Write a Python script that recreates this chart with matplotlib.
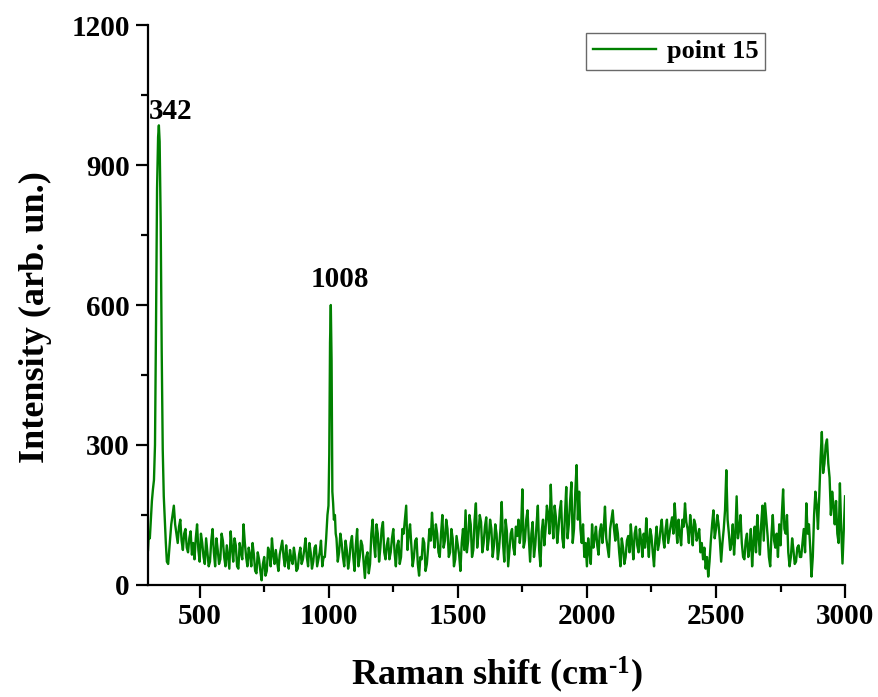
import numpy as np
import matplotlib
matplotlib.use("Agg")
import matplotlib.pyplot as plt
from matplotlib.ticker import MultipleLocator

# Raman spectrum "point 15"
# strong band around 342 cm-1
peak1_shift = [300, 303, 307, 311, 315, 319, 323, 327, 331, 335, 339, 342,
               345, 349, 353, 357, 361, 365, 369, 373, 378]
peak1_int = [75, 110, 100, 140, 180, 205, 225, 300, 560, 850, 960, 985,
             950, 780, 500, 290, 190, 140, 90, 50, 45]

# background between the two bands, 380..980 cm-1 every 10
bg1_start = 380
bg1_int = [60, 130, 170, 110, 125, 95, 110, 80, 100, 65,
           55, 130, 50, 90, 45, 70, 50, 120, 40, 75,
           55, 95, 40, 60, 115, 50, 85, 35, 70, 130,
           60, 80, 40, 65, 25, 55, 10, 60, 30, 70,
           100, 45, 50, 65, 95, 40, 55, 75, 45, 60,
           35, 80, 55, 100, 40, 70, 50, 85, 55, 95,
           60]
# in-between readings, 385..975 cm-1
bg1_mid_start = 385
bg1_mid = [95, 150, 130, 90, 140, 75, 120, 70, 115, 90,
           100, 75, 110, 60, 100, 40, 95, 70, 100, 45,
           110, 60, 85, 35, 80, 100, 40, 90, 55, 90,
           40, 65, 90, 30, 70, 30, 45, 20, 80, 40,
           65, 75, 30, 80, 60, 85, 35, 55, 80, 30,
           65, 45, 75, 60, 90, 35, 80, 40, 70, 40]

# narrow band at 1008 cm-1
peak2_shift = [985, 990, 995, 999, 1002, 1005, 1008, 1011, 1014, 1017, 1020, 1024, 1027]
peak2_int = [60, 100, 150, 170, 280, 520, 600, 480, 200, 175, 140, 150, 110]

# background 1030..3000 cm-1 every 10
bg2_start = 1030
bg2_int = [100, 70, 90, 40, 75, 55, 105, 30, 120, 60,
           85, 15, 70, 45, 140, 60, 110, 80, 135, 55,
           100, 70, 120, 40, 95, 60, 110, 170, 110, 85,
           60, 100, 20, 55, 90, 45, 120, 155, 80, 110,
           60, 150, 95, 120, 70, 100, 55, 85, 30, 120,
           160, 95, 130, 75, 175, 110, 135, 90, 145, 100,
           120, 85, 110, 80, 178, 50, 115, 75, 120, 65,
           105, 90, 205, 95, 160, 50, 135, 85, 170, 40,
           140, 120, 150, 215, 100, 145, 120, 180, 80, 210,
           130, 220, 120, 257, 200, 90, 60, 40, 70, 130,
           100, 85, 115, 90, 168, 80, 120, 160, 95, 110,
           40, 80, 60, 105, 130, 55, 125, 70, 95, 110,
           143, 60, 105, 40, 125, 90, 140, 80, 140, 110,
           145, 175, 90, 110, 140, 175, 120, 150, 85, 130,
           105, 70, 55, 35, 18, 95, 160, 120, 130, 50,
           120, 246, 110, 90, 65, 190, 120, 90, 55, 110,
           80, 40, 125, 150, 65, 170, 175, 105, 40, 150,
           80, 60, 85, 205, 110, 70, 60, 75, 50, 85,
           60, 120, 175, 130, 18, 150, 170, 190, 328, 260,
           312, 230, 200, 130, 110, 218, 46, 190]
# in-between readings, 1035..2995 cm-1
bg2_mid_start = 1035
bg2_mid = [50, 110, 60, 95, 35, 90, 60, 85, 40, 95,
           50, 60, 25, 110, 90, 130, 50, 120, 70, 85,
           55, 100, 70, 85, 45, 120, 140, 75, 130, 40,
           95, 45, 60, 100, 30, 80, 95, 110, 130, 70,
           110, 80, 140, 60, 120, 40, 105, 65, 90, 75,
           70, 150, 60, 140, 80, 150, 70, 125, 75, 140,
           60, 130, 55, 120, 90, 140, 40, 110, 80, 125,
           140, 120, 80, 140, 100, 110, 60, 130, 75, 115,
           85, 170, 110, 140, 170, 90, 160, 100, 150, 100,
           180, 90, 200, 140, 120, 130, 90, 100, 45, 80,
           125, 65, 130, 120, 100, 60, 140, 120, 130, 70,
           100, 45, 95, 70, 90, 110, 85, 120, 60, 80,
           95, 120, 70, 95, 75, 120, 100, 120, 90, 130,
           110, 130, 140, 85, 125, 135, 90, 120, 140, 95,
           120, 90, 80, 60, 50, 130, 100, 150, 95, 90,
           160, 140, 75, 130, 110, 100, 150, 60, 95, 60,
           120, 90, 70, 105, 130, 95, 140, 60, 110, 95,
           110, 130, 150, 120, 150, 40, 100, 45, 80, 60,
           90, 70, 110, 80, 60, 200, 120, 270, 240, 300,
           260, 150, 170, 180, 90, 120, 120]

peak_labels = ["342", "1008"]
peak_label_pos = [(388, 985), (1045, 625)]

bg1_shift = bg1_start + 10 * np.arange(len(bg1_int))
bg1_mid_shift = bg1_mid_start + 10 * np.arange(len(bg1_mid))
bg2_shift = bg2_start + 10 * np.arange(len(bg2_int))
bg2_mid_shift = bg2_mid_start + 10 * np.arange(len(bg2_mid))

shift = np.concatenate([peak1_shift, bg1_shift, bg1_mid_shift, peak2_shift,
                        bg2_shift, bg2_mid_shift])
intensity = np.concatenate([peak1_int, bg1_int, bg1_mid, peak2_int, bg2_int, bg2_mid])
order = np.argsort(shift)
shift, intensity = shift[order], intensity[order]

plt.rcParams['font.family'] = ['Liberation Serif', 'DejaVu Serif']
plt.rcParams['font.weight'] = 'bold'
plt.rcParams['mathtext.fontset'] = 'custom'
plt.rcParams['mathtext.rm'] = 'Liberation Serif:bold'
plt.rcParams['mathtext.it'] = 'Liberation Serif:bold'
plt.rcParams['mathtext.bf'] = 'Liberation Serif:bold'
plt.rcParams['mathtext.default'] = 'regular'

fig = plt.figure(figsize=(8.79, 6.97), dpi=100)
ax = fig.add_axes([0.1684, 0.1607, 0.793, 0.8034])

ax.plot(shift, intensity, color='#008000', linewidth=1.7, label='point 15')

for txt, (px, py) in zip(peak_labels, peak_label_pos):
    ax.text(px, py, txt, ha='center', va='bottom', fontsize=21, fontweight='bold')

ax.set_xlim(300, 3000)
ax.set_ylim(0, 1200)
ax.xaxis.set_major_locator(MultipleLocator(500))
ax.xaxis.set_minor_locator(MultipleLocator(250))
ax.yaxis.set_major_locator(MultipleLocator(300))
ax.yaxis.set_minor_locator(MultipleLocator(150))

for side in ['top', 'right']:
    ax.spines[side].set_visible(False)
for side in ['left', 'bottom']:
    ax.spines[side].set_linewidth(1.6)

ax.tick_params(which='major', direction='out', length=9, width=1.6, labelsize=21, pad=4)
ax.tick_params(which='minor', direction='out', length=5, width=1.6)
for lab in ax.get_xticklabels() + ax.get_yticklabels():
    lab.set_fontweight('bold')

ax.set_xlabel('Raman shift (cm$^{\u2010 1}$)', fontsize=26, fontweight='bold', labelpad=18)
ax.set_ylabel('Intensity (arb. un.)', fontsize=26, fontweight='bold')
ax.yaxis.set_label_coords(-0.138, 0.478)

leg = ax.legend(loc='upper right', bbox_to_anchor=(0.885, 0.986), borderaxespad=0,
                fancybox=False, frameon=True, handlelength=2.4,
                handletextpad=0.4, borderpad=0.25, prop={'weight': 'bold', 'size': 19})
leg.get_frame().set_edgecolor('#444444')
leg.get_frame().set_linewidth(1.0)

fig.savefig('out.png', dpi=100)
plt.close()
